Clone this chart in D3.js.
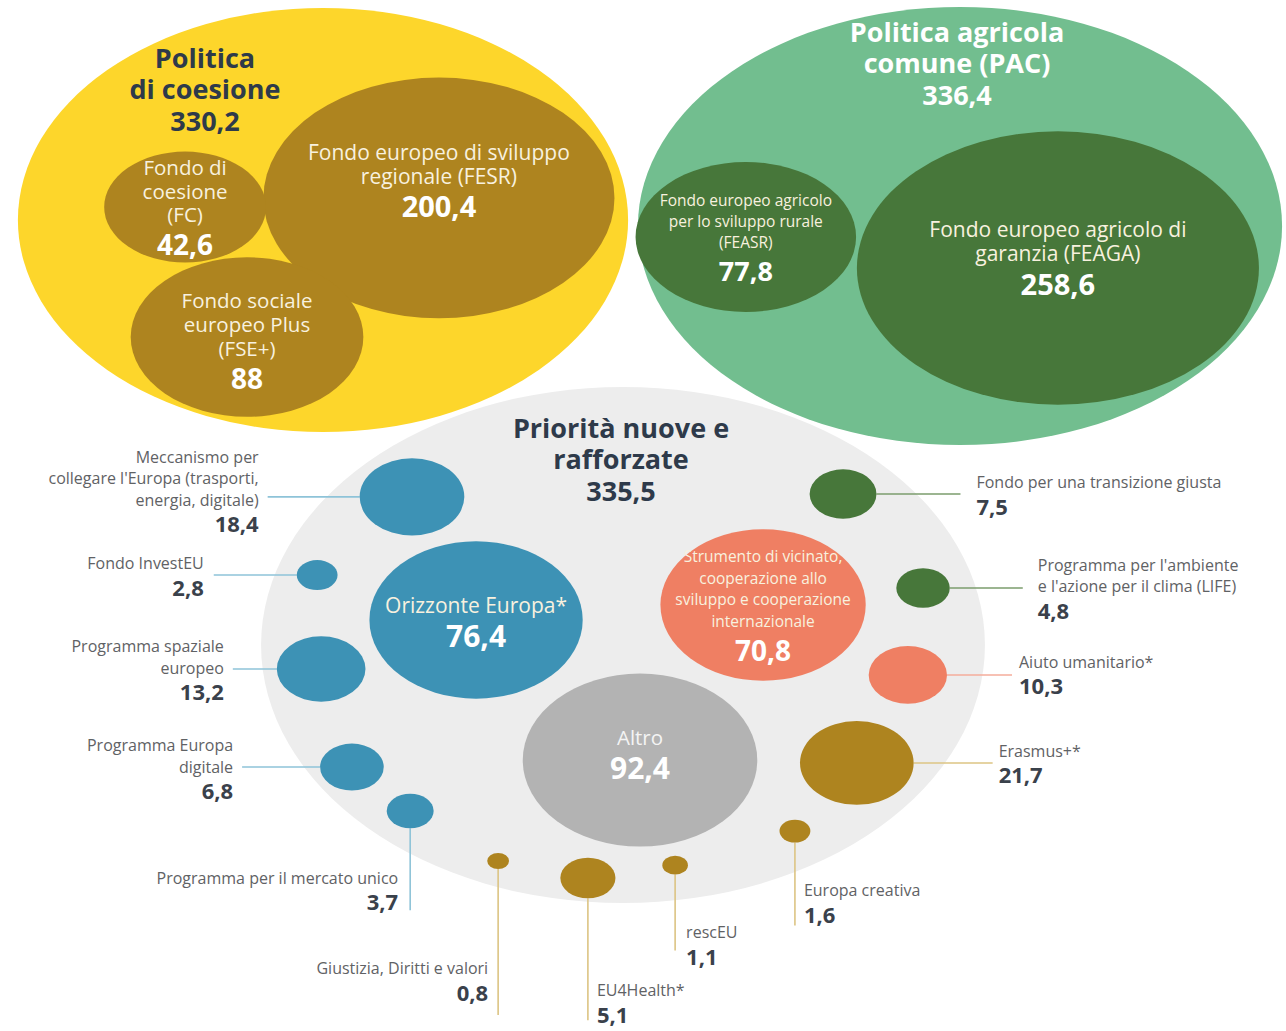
<!DOCTYPE html>
<html>
<head>
<meta charset="utf-8">
<script src="https://cdn.jsdelivr.net/npm/d3@7"></script>
<style>
  body { margin: 0; background: #fff; }
  svg { display: block; }
  text { font-family: "Open Sans", "Noto Sans", sans-serif; }
</style>
</head>
<body>
<svg id="chart"></svg>
<script>
// ---- data (miliardi di euro) ----
const groupTitles = [["Politica", "di coesione"], ["Politica agricola", "comune (PAC)"], ["Priorità nuove e", "rafforzate"]];
const groupValues = [330.2, 336.4, 335.5];

// bubbles with the label inside
const innerNames = [
    ["Fondo europeo di sviluppo", "regionale (FESR)"],
    ["Fondo di", "coesione", "(FC)"],
    ["Fondo sociale", "europeo Plus", "(FSE+)"],
    ["Fondo europeo agricolo", "per lo sviluppo rurale", "(FEASR)"],
    ["Fondo europeo agricolo di", "garanzia (FEAGA)"],
    ["Orizzonte Europa*"],
    ["Strumento di vicinato,", "cooperazione allo", "sviluppo e cooperazione", "internazionale"],
    ["Altro"]
];
const innerValues = [200.4, 42.6, 88, 77.8, 258.6, 76.4, 70.8, 92.4];
const innerGroup = [0, 0, 0, 1, 1, 2, 2, 2];
const innerFamily = ["gold", "gold", "gold", "green", "green", "blue", "salmon", "gray"];

// small bubbles of the third group, labelled outside
const outerNames = [
    ["Meccanismo per", "collegare l'Europa (trasporti,", "energia, digitale)"],
    ["Fondo InvestEU"],
    ["Programma spaziale", "europeo"],
    ["Programma Europa", "digitale"],
    ["Programma per il mercato unico"],
    ["Giustizia, Diritti e valori"],
    ["EU4Health*"],
    ["rescEU"],
    ["Europa creativa"],
    ["Erasmus+*"],
    ["Aiuto umanitario*"],
    ["Programma per l'ambiente", "e l'azione per il clima (LIFE)"],
    ["Fondo per una transizione giusta"]
];
const outerValues = [18.4, 2.8, 13.2, 6.8, 3.7, 0.8, 5.1, 1.1, 1.6, 21.7, 10.3, 4.8, 7.5];
const outerFamily = ["blue", "blue", "blue", "blue", "blue", "gold", "gold", "gold", "gold", "gold", "salmon", "green", "green"];

// ---- layout & style ----
const W = 1286, H = 1031;

const palette = { gold: "#ae841f", green: "#47773a", blue: "#3d92b5", salmon: "#ef7f63", gray: "#b3b3b3" };
const linePalette = { gold: "#dcc483", green: "#7b9d6c", blue: "#8ec3d8", salmon: "#f4ac9b" };

// parent centre, parent scale factors (px, py), child scale factors (kx, ky)
const groupLayout = [
    { cx: 323, cy: 220, px: 16.79, py: 11.67, kx: 12.4, ky: 8.5, fill: "#fdd62b", tcol: "#2e3a4a", tdx: -118, tdy: -163 },
    { cx: 960, cy: 226, px: 17.56, py: 11.94, kx: 12.5, ky: 8.5, fill: "#72be8f", tcol: "#ffffff", tdx: -3, tdy: -195 },
    { cx: 623, cy: 645, px: 19.76, py: 14.09, kx: 12.2, ky: 9.0, fill: "#ededed", tcol: "#2e3a4a", tdx: -2, tdy: -218 }
];
const drawOrder = [2, 0, 1];

// child centres as fractions of the parent radii
const innerPos = [[0.380, -0.104], [-0.452, -0.061], [-0.249, 0.552], [-0.665, 0.050], [0.304, 0.192],
                  [-0.406, -0.097], [0.387, -0.155], [0.047, 0.446]];
// [first line dy, line gap, value gap, font size, value font size]
const innerText = [[-46, 24, 30, 21, 29], [-40, 23.5, 30, 20.5, 28], [-37, 24, 30, 20.5, 28], [-37, 21, 29, 15.5, 27],
                   [-39, 24, 30, 21, 29], [-15, 0, 31, 21, 30], [-49, 21.7, 29, 15.5, 28], [-23, 0, 30, 20.5, 30]];

const outerPos = [[-0.583, -0.574], [-0.845, -0.271], [-0.834, 0.093], [-0.749, 0.473], [-0.588, 0.643],
                  [-0.345, 0.837], [-0.097, 0.903], [0.144, 0.853], [0.475, 0.721], [0.646, 0.457],
                  [0.787, 0.116], [0.829, -0.221], [0.608, -0.585]];
// [side, leader length, text gap, first line dy]
const outerLabel = [["l", 92, 9, -40], ["l", 83, 10, -12], ["l", 44, 9, -23], ["l", 78, 9, -22], ["bl", 82, 12, 67],
                    ["bl", 146, 10, 107], ["br", 122, 9, 112], ["br", 76, 11, 67], ["br", 83, 9, 59],
                    ["r", 79, 6, -12], ["r", 65, 7, -13], ["r", 73, 15, -23], ["r", 84, 16, -12]];

const fmt = d3.formatLocale({ decimal: ",", thousands: ".", grouping: [3], currency: ["", "€"] }).format(".1~f");

const svg = d3.select("#chart").attr("width", W).attr("height", H);

// radius scales (sqrt of value) per group
const scales = groupLayout.map(g => ({
    prx: d3.scaleSqrt().domain([0, 1]).range([0, g.px]),
    pry: d3.scaleSqrt().domain([0, 1]).range([0, g.py]),
    rx: d3.scaleSqrt().domain([0, 1]).range([0, g.kx]),
    ry: d3.scaleSqrt().domain([0, 1]).range([0, g.ky])
}));

const groups = groupValues.map((v, i) => ({
    ...groupLayout[i], i, value: v, lines: groupTitles[i],
    rx: scales[i].prx(v), ry: scales[i].pry(v)
}));

// ---- parent bubbles ----
svg.append("g").selectAll("ellipse")
    .data(drawOrder.map(i => groups[i]))
    .join("ellipse")
    .attr("cx", d => d.cx).attr("cy", d => d.cy)
    .attr("rx", d => d.rx).attr("ry", d => d.ry)
    .attr("fill", d => d.fill);

// ---- inner bubbles ----
const inner = innerValues.map((v, i) => {
    const g = groups[innerGroup[i]], s = scales[innerGroup[i]];
    return {
        name: innerNames[i], value: v, fam: innerFamily[i], t: innerText[i],
        cx: g.cx + innerPos[i][0] * g.rx, cy: g.cy + innerPos[i][1] * g.ry,
        rx: s.rx(v), ry: s.ry(v)
    };
});

const innerG = svg.append("g").selectAll("g").data(inner).join("g");
innerG.append("ellipse")
    .attr("cx", d => d.cx).attr("cy", d => d.cy)
    .attr("rx", d => d.rx).attr("ry", d => d.ry)
    .attr("fill", d => palette[d.fam]);

innerG.each(function (d) {
    const g = d3.select(this);
    const col = d.fam === "gray" ? "#f4f4f4" : "#f8f1df";
    d.name.forEach((line, k) => {
        g.append("text")
            .attr("x", d.cx).attr("y", d.cy + d.t[0] + k * d.t[1])
            .attr("text-anchor", "middle").attr("dominant-baseline", "central")
            .attr("font-size", d.t[3]).attr("fill", col)
            .text(line);
    });
    g.append("text")
        .attr("x", d.cx).attr("y", d.cy + d.t[0] + (d.name.length - 1) * d.t[1] + d.t[2])
        .attr("text-anchor", "middle").attr("dominant-baseline", "central")
        .attr("font-size", d.t[4]).attr("font-weight", "bold").attr("fill", "#ffffff")
        .text(fmt(d.value));
});

// ---- outer bubbles with leader lines ----
const g2 = groups[2], s2 = scales[2];
const outer = outerValues.map((v, i) => ({
    name: outerNames[i], value: v, fam: outerFamily[i], lab: outerLabel[i],
    cx: g2.cx + outerPos[i][0] * g2.rx, cy: g2.cy + outerPos[i][1] * g2.ry,
    rx: s2.rx(v), ry: s2.ry(v)
}));

const outerG = svg.append("g").selectAll("g").data(outer).join("g");

outerG.each(function (d) {
    const g = d3.select(this);
    const [side, len, gap, ty] = d.lab;
    let x1, y1, x2, y2, tx, anchor;
    if (side === "l") {
        x1 = d.cx - d.rx; x2 = x1 - len; y1 = y2 = d.cy; tx = x2 - gap; anchor = "end";
    } else if (side === "r") {
        x1 = d.cx + d.rx; x2 = x1 + len; y1 = y2 = d.cy; tx = x2 + gap; anchor = "start";
    } else {
        x1 = x2 = d.cx; y1 = d.cy + d.ry; y2 = y1 + len;
        tx = side === "bl" ? d.cx - gap : d.cx + gap;
        anchor = side === "bl" ? "end" : "start";
    }
    g.append("line")
        .attr("x1", x1).attr("y1", y1).attr("x2", x2).attr("y2", y2)
        .attr("stroke", linePalette[d.fam]).attr("stroke-width", 1.6);
    g.append("ellipse")
        .attr("cx", d.cx).attr("cy", d.cy)
        .attr("rx", d.rx).attr("ry", d.ry)
        .attr("fill", palette[d.fam]);
    d.name.forEach((line, k) => {
        g.append("text")
            .attr("x", tx).attr("y", d.cy + ty + k * 21.5)
            .attr("text-anchor", anchor).attr("dominant-baseline", "central")
            .attr("font-size", 16).attr("fill", "#5f6265")
            .text(line);
    });
    g.append("text")
        .attr("x", tx).attr("y", d.cy + ty + (d.name.length - 1) * 21.5 + 23.5)
        .attr("text-anchor", anchor).attr("dominant-baseline", "central")
        .attr("font-size", 22).attr("font-weight", "bold").attr("fill", "#3a414b")
        .text(fmt(d.value));
});

// ---- group titles ----
groups.forEach(g => {
    const tg = svg.append("g").attr("fill", g.tcol)
        .attr("font-weight", "bold").attr("font-size", 27).attr("text-anchor", "middle");
    g.lines.concat([fmt(g.value)]).forEach((line, k) => {
        tg.append("text")
            .attr("x", g.cx + g.tdx).attr("y", g.cy + g.tdy + k * 31.5)
            .attr("dominant-baseline", "central")
            .text(line);
    });
});
</script>
</body>
</html>
